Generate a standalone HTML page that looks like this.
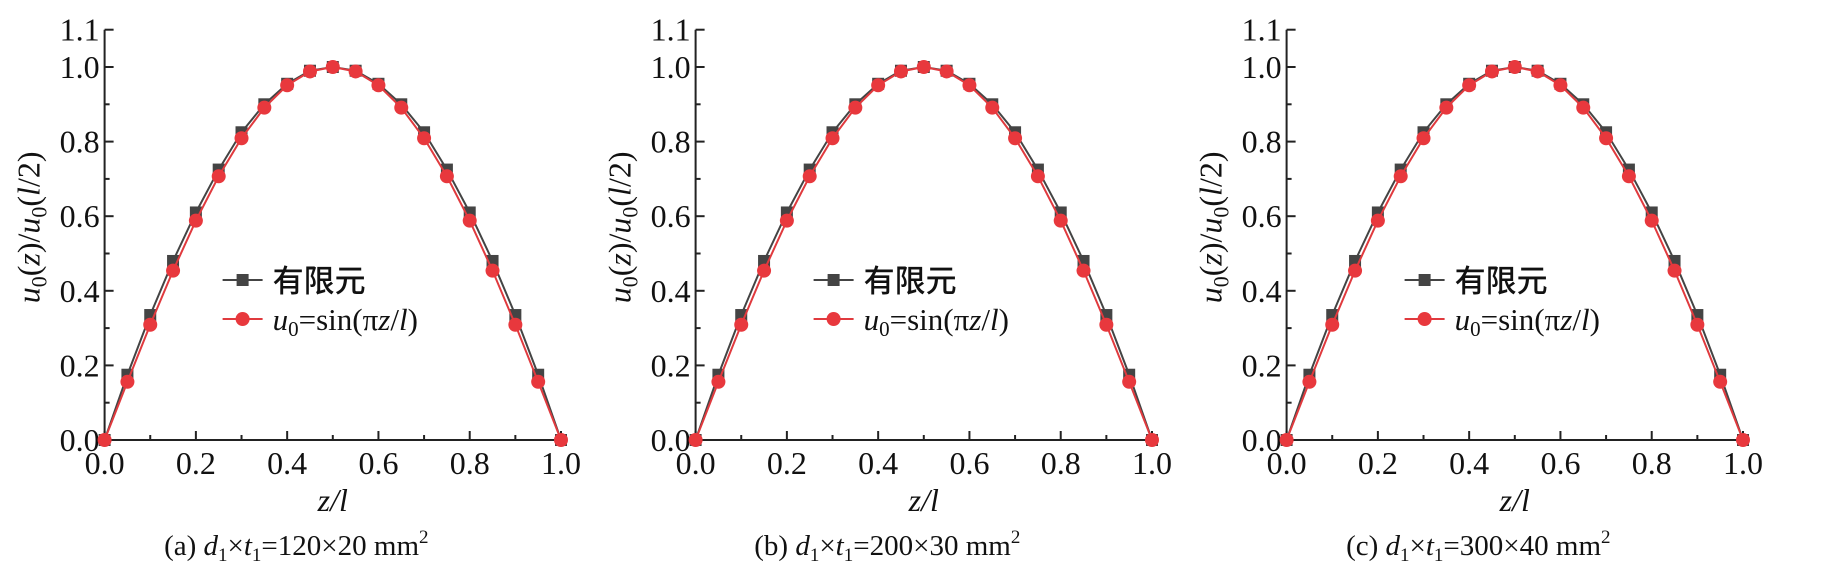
<!DOCTYPE html>
<html><head><meta charset="utf-8"><style>
html,body{margin:0;padding:0;background:#fff;}
svg{display:block;}
svg text{font-family:"Liberation Serif","Noto Serif CJK SC",serif !important;fill:#111;}
svg text.cjk{font-family:"Noto Sans CJK SC",sans-serif !important;}
</style></head><body>
<svg id="chart" width="1821" height="569" viewBox="0 0 1821 569" xmlns="http://www.w3.org/2000/svg"></svg>
<script>
const zValues=[0,0.05,0.1,0.15,0.2,0.25,0.3,0.35,0.4,0.45,0.5,0.55,0.6,0.65,0.7,0.75,0.8,0.85,0.9,0.95,1.0];
const feValues=[0,0.175,0.335,0.48,0.61,0.725,0.825,0.9,0.955,0.99,1.0,0.99,0.955,0.9,0.825,0.725,0.61,0.48,0.335,0.175,0];
const sinValues=[0,0.156,0.309,0.454,0.588,0.707,0.809,0.891,0.951,0.988,1.0,0.988,0.951,0.891,0.809,0.707,0.588,0.454,0.309,0.156,0];
const xTicks=[0,0.2,0.4,0.6,0.8,1.0];
const xTickLabels=["0.0","0.2","0.4","0.6","0.8","1.0"];
const yTicks=[0,0.2,0.4,0.6,0.8,1.0,1.1];
const yTickLabels=["0.0","0.2","0.4","0.6","0.8","1.0","1.1"];
const panelCaptions=[["(a) ","120×20"],["(b) ","200×30"],["(c) ","300×40"]];
const panelNames=["panel-a","panel-b","panel-c"];

const NS="http://www.w3.org/2000/svg";
const svg=document.getElementById('chart');
function mk(tag,attrs,parent){const e=document.createElementNS(NS,tag);for(const k in attrs)e.setAttribute(k,attrs[k]);parent.appendChild(e);return e;}

const offsets=[104.6,695.6,1286.6];
const W=456.4, Y0=440, Y1=67;
offsets.forEach((ox,pi)=>{
  const g=mk('g',{},svg);
  
  
  const sx=v=>ox+v*W;
  const sy=v=>Y0-v*(Y0-Y1);
  const ax=mk('g',{stroke:'#222','stroke-width':2},g);
  
  
  mk('line',{x1:ox,y1:sy(0),x2:ox+W,y2:sy(0)},ax);
  mk('line',{x1:ox,y1:sy(0),x2:ox,y2:sy(1.1)},ax);
  for(let i=0;i<=10;i++){const v=i*0.1;const L=i%2==0?9:5;mk('line',{x1:sx(v),y1:sy(0),x2:sx(v),y2:sy(0)-L},ax);}
  for(let i=0;i<=11;i++){const v=i*0.1;const L=(i%2==0||i==11)?9:5;mk('line',{x1:ox,y1:sy(v),x2:ox+L,y2:sy(v)},ax);}
  xTicks.forEach((v,i)=>{const t=mk('text',{x:sx(v),y:474,'text-anchor':'middle','font-size':32},g);t.textContent=xTickLabels[i];
    
    });
  yTicks.forEach((v,i)=>{const t=mk('text',{x:ox-5,y:sy(v)+11,'text-anchor':'end','font-size':32},g);t.textContent=yTickLabels[i];
    
    });
  const xt=mk('text',{x:sx(0.5),y:511,'text-anchor':'middle','font-size':32,'font-style':'italic'},g);
  xt.textContent='z/l';
  
  
  const yt=mk('text',{transform:`translate(${ox-65},${sy(0.57)}) rotate(-90)`,'text-anchor':'middle','font-size':32},g);
  yt.innerHTML='<tspan font-style="italic">u</tspan><tspan font-size="22" dy="7">0</tspan><tspan dy="-7">(</tspan><tspan font-style="italic">z</tspan><tspan>)/</tspan><tspan font-style="italic">u</tspan><tspan font-size="22" dy="7">0</tspan><tspan dy="-7">(</tspan><tspan font-style="italic">l</tspan><tspan>/2)</tspan>';
  
  
  const cap=mk('text',{x:sx(0.42),y:555,'text-anchor':'middle','font-size':29},g);
  cap.innerHTML=panelCaptions[pi][0]+'<tspan font-style="italic">d</tspan><tspan font-size="19" dy="6">1</tspan><tspan dy="-6">×</tspan><tspan font-style="italic">t</tspan><tspan font-size="19" dy="6">1</tspan><tspan dy="-6">='+panelCaptions[pi][1]+' mm</tspan><tspan font-size="19" dy="-12">2</tspan>';
  
  
  const fePts=zValues.map((z,i)=>sx(z)+','+sy(feValues[i])).join(' ');
  const feLine=mk('polyline',{points:fePts,fill:'none',stroke:'#444','stroke-width':2},g);
  
  
  zValues.forEach((z,i)=>{const r=mk('rect',{x:sx(z)-6,y:sy(feValues[i])-6,width:12,height:12,fill:'#444'},g);
    
    });
  const sinPts=zValues.map((z,i)=>sx(z)+','+sy(sinValues[i])).join(' ');
  const sinLine=mk('polyline',{points:sinPts,fill:'none',stroke:'#e03a3e','stroke-width':2},g);
  
  
  zValues.forEach((z,i)=>{const c=mk('circle',{cx:sx(z),cy:sy(sinValues[i]),r:7,fill:'#e8383d'},g);
    
    });
  const lg=mk('g',{},g);
  
  
  const lx=ox+118;
  mk('line',{x1:lx,y1:280,x2:lx+40,y2:280,stroke:'#444','stroke-width':2},lg);
  mk('rect',{x:lx+14,y:274,width:12,height:12,fill:'#444'},lg);
  const l1=mk('text',{x:lx+50,y:292,'font-size':31,'font-weight':'500','class':'cjk'},lg);
  l1.textContent='有限元';
  
  
  mk('line',{x1:lx,y1:319,x2:lx+40,y2:319,stroke:'#e03a3e','stroke-width':2},lg);
  mk('circle',{cx:lx+20,cy:319,r:7,fill:'#e8383d'},lg);
  const l2=mk('text',{x:lx+50,y:330,'font-size':31},lg);
  l2.innerHTML='<tspan font-style="italic">u</tspan><tspan font-size="21" dy="6">0</tspan><tspan dy="-6">=sin(π</tspan><tspan font-style="italic">z</tspan><tspan>/</tspan><tspan font-style="italic">l</tspan><tspan>)</tspan>';
  
  
});
</script>
</body></html>
